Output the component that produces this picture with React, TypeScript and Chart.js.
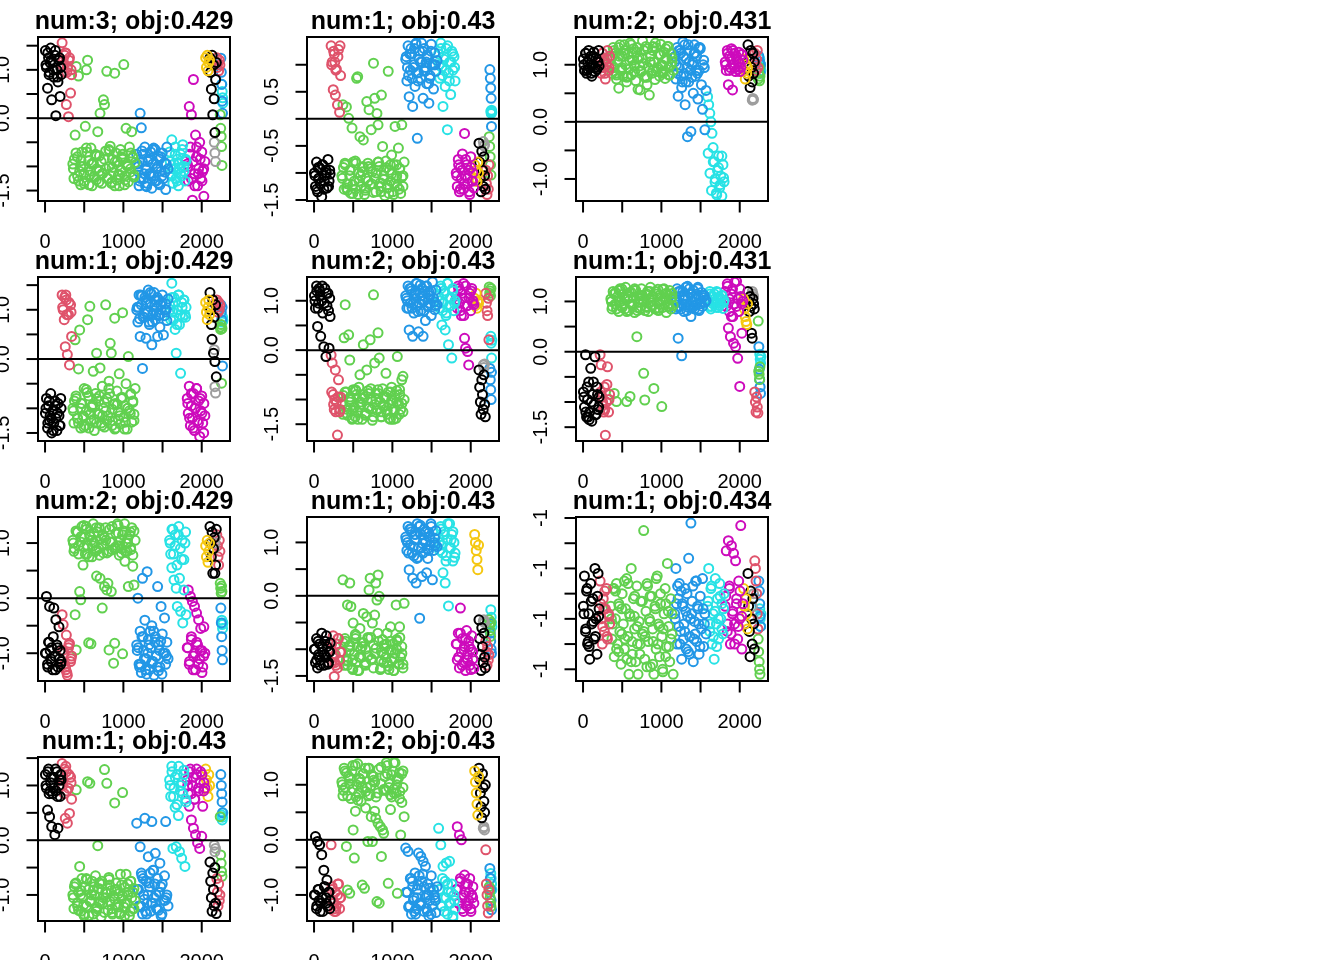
import React, { useEffect, useRef } from 'react';
import { Chart, registerables } from 'chart.js';

Chart.register(...registerables);

// R 4.x default palette
const BLACK = '#000000';
const RED = '#DF536B';
const GREEN = '#61D04F';
const BLUE = '#2297E6';
const CYAN = '#28E2E5';
const MAGENTA = '#CD0BBC';
const YELLOW = '#F5C710';
const GRAY = '#9E9E9E';

// observation index of each plotted point, per group (same in every panel)
const blackX = [5, 18, 32, 45, 58, 72, 85, 98, 112, 125, 138, 152, 165, 178, 192, 205];
const redX = [218, 231, 245, 258, 272, 285, 299, 312, 326, 339];
const greenX = [
  355, 369, 384, 398, 413, 427, 442, 456, 470, 485, 499, 514, 528, 543, 557, 572,
  586, 600, 615, 629, 644, 658, 673, 687, 702, 716, 730, 745, 759, 774, 788, 803,
  817, 832, 846, 860, 875, 889, 904, 918, 933, 947, 962, 976, 990, 1005, 1019, 1034,
  1048, 1063, 1077, 1092, 1106, 1120, 1135, 1150,
];
const blueX = [
  1170, 1185, 1200, 1214, 1229, 1244, 1259, 1274, 1289, 1303, 1318, 1333, 1348, 1363,
  1377, 1392, 1407, 1422, 1437, 1451, 1466, 1481, 1496, 1511, 1525, 1540, 1555, 1570,
];
const cyanX = [1590, 1604, 1618, 1632, 1646, 1660, 1674, 1688, 1702, 1716, 1730, 1744, 1758, 1772, 1786, 1800];
const magentaX = [1815, 1828, 1841, 1855, 1868, 1881, 1894, 1908, 1921, 1934, 1947, 1960, 1974, 1987, 2000, 2013, 2027, 2040];
const yellowX = [2050, 2060, 2070, 2080, 2090, 2100];
const black2X = [2105, 2114, 2123, 2132, 2141, 2150, 2159, 2168, 2177, 2186];
const grayX = [2160, 2168, 2176];
const red2X = [2192, 2200, 2208, 2216, 2224, 2232];
const green2X = [2236, 2242, 2248, 2253, 2258];
const blue2X = [2244, 2250, 2255, 2260, 2265];
const cyan2X = [2256, 2261, 2266, 2270];

// further observations inside the dense clouds
const blackMoreX = [12, 35, 52, 78, 105, 132, 158, 185, 200, 65];
const redMoreX = [225, 250, 278, 305, 332, 265];
const greenMoreX = [
  362, 395, 428, 461, 494, 527, 560, 593, 626, 659, 692, 725,
  758, 791, 824, 857, 890, 923, 956, 989, 1022, 1055, 1088, 1121,
  375, 415, 455, 495, 535, 575, 615, 655, 695, 735,
  775, 815, 855, 895, 935, 975, 1015, 1055, 1095, 1135,
];
const blueMoreX = [
  1177, 1207, 1237, 1267, 1297, 1327, 1357, 1387, 1417, 1447, 1477, 1532,
  1192, 1222, 1252, 1282, 1312, 1342, 1372, 1402, 1432, 1462, 1492, 1548,
];
const cyanMoreX = [1597, 1620, 1640, 1662, 1684, 1706, 1728, 1750, 1772, 1794];
const magentaMoreX = [1822, 1845, 1868, 1890, 1912, 1935, 1958, 1980, 2003, 2025];

const groupX = [blackX, redX, greenX, blueX, cyanX, magentaX, yellowX, black2X, grayX, red2X, green2X, blue2X, cyan2X];
const groupColor = [BLACK, RED, GREEN, BLUE, CYAN, MAGENTA, YELLOW, BLACK, GRAY, RED, GREEN, BLUE, CYAN];

const titles = [
  'num:3; obj:0.429', 'num:1; obj:0.43', 'num:2; obj:0.431',
  'num:1; obj:0.429', 'num:2; obj:0.43', 'num:1; obj:0.431',
  'num:2; obj:0.429', 'num:1; obj:0.43', 'num:1; obj:0.434',
  'num:1; obj:0.43', 'num:2; obj:0.43',
];

const xRange = [-89.8, 2360.8];
const xTicks = [0, 500, 1000, 1500, 2000];
const xTickLabels = ['0', '', '1000', '', '2000'];

const yRanges = [
  [-1.716, 1.68], [-1.519, 1.513], [-1.386, 1.486],
  [-1.663, 1.665], [-1.84, 1.481], [-1.775, 1.486],
  [-1.504, 1.473], [-1.595, 1.476], [-1.003465, -0.99696],
  [-1.476, 1.52], [-1.473, 1.504],
];
const yTicks = [
  [-1.5, -1, -0.5, 0, 0.5, 1, 1.5], [-1.5, -1, -0.5, 0, 0.5, 1], [-1, -0.5, 0, 0.5, 1],
  [-1.5, -1, -0.5, 0, 0.5, 1, 1.5], [-1.5, -1, -0.5, 0, 0.5, 1], [-1.5, -1, -0.5, 0, 0.5, 1],
  [-1, -0.5, 0, 0.5, 1], [-1.5, -1, -0.5, 0, 0.5, 1], [-1.003, -1.002, -1.001, -1, -0.999, -0.998, -0.997],
  [-1, -0.5, 0, 0.5, 1, 1.5], [-1, -0.5, 0, 0.5, 1],
];
const yTickLabels = [
  ['-1.5', '', '', '0.0', '', '1.0', ''], ['-1.5', '', '-0.5', '', '0.5', ''], ['-1.0', '', '0.0', '', '1.0'],
  ['-1.5', '', '', '0.0', '', '1.0', ''], ['-1.5', '', '', '0.0', '', '1.0'], ['-1.5', '', '', '0.0', '', '1.0'],
  ['-1.0', '', '0.0', '', '1.0'], ['-1.5', '', '', '0.0', '', '1.0'], ['-1', '', '-1', '', '-1', '', '-1'],
  ['-1.0', '', '0.0', '', '1.0', ''], ['-1.0', '', '0.0', '', '1.0'],
];

// y values per panel, groups in the order of groupX
const p1 = [
  [1.4, 1.05, 0.62, 1.25, 0.95, 1.45, 0.38, 1.15, 0.85, 1.3, 0.05, 1.0, 0.75, 1.2, 0.45, 0.9],
  [1.56, 1.2, 0.95, 1.35, 0.28, 1.05, 0.03, 1.25, 0.52, 0.9],
  [
    -0.95, -1.25, -0.35, 1.07, -0.8, 0.87, -1.1, -1.38,
    -0.7, -1.0, -1.3, -0.17, 1.0, 1.2, -0.88, -1.18,
    -0.62, -1.4, -0.95, -1.22, -0.75, -1.05, -0.28, -1.32,
    0.1, -0.9, -1.15, 0.38, 0.28, -0.68, 0.97, -1.25,
    -1.0, -0.58, -1.35, -0.85, -1.12, 0.93, -0.72, -1.28,
    -0.98, -1.4, -0.65, -1.08, -0.85, 1.11, -1.2, -0.21,
    -0.95, -1.32, -0.6, -1.05, -0.28, -0.8, -1.18, -0.92,
  ],
  [
    -0.75, -1.1, -1.4, 0.1, -0.2, -0.9, -1.25, -0.6, -1.05, -1.35, -0.85, -1.15, -0.7, -1.45,
    -0.95, -1.2, -0.65, -1.3, -1.0, -0.8, -1.38, -1.1, -0.72, -1.25, -0.92, -1.48, -0.6, -1.05,
  ],
  [-0.7, -1.15, -0.45, -1.35, -0.95, -0.6, -1.25, -0.85, -1.4, -1.05, -0.75, -1.2, -0.55, -1.0, -1.3, -0.88],
  [-0.95, -1.3, 0.24, -0.6, 0.07, -1.7, 0.8, -1.15, -0.35, -0.8, -1.4, -1.05, -0.5, -1.25, -0.7, -1.1, -1.62, -0.9],
  [1.25, 1.05, 1.3, 0.98, 1.15, 1.2],
  [1.25, 0.95, 0.6, 1.3, 0.07, 1.1, 0.4, -0.3, 0.8, 1.15],
  [-0.5, -0.72, -0.9],
  [1.25, 1.05, 1.15, 0.98, 1.2, 1.1],
  [0.07, -0.21, -0.38, -0.59, -0.98],
  [1.24, 0.95, 0.7, 0.35, 0.1],
  [0.7, 0.55, 0.42, 0.31],
];

const p2 = [
  [-1.0, -1.25, -0.8, -1.35, -1.1, -0.9, -1.2, -1.44, -0.85, -1.3, -1.05, -0.95, -1.28, -0.75, -1.15, -1.02],
  [1.35, 1.05, 0.54, 1.2, 0.44, 0.92, 0.26, 1.28, 0.12, 0.8],
  [
    -1.05, 0.26, -1.3, -0.85, 0.22, -1.2, 0.01, -0.95,
    -1.38, -0.17, -0.8, -1.15, -1.3, 0.75, 0.78, -1.0,
    -0.33, -1.25, -0.9, -0.39, -1.4, -1.1, 0.32, -0.82,
    0.17, -1.22, -0.2, -0.98, 1.03, 0.38, -1.35, 0.1,
    -0.11, -0.88, -1.18, 0.44, -0.51, -1.05, -1.42, -0.78,
    -1.28, 0.88, -0.95, -1.15, -0.67, -1.35, -0.85, -0.14,
    -1.1, -1.25, -0.54, -0.92, -1.38, -0.11, -1.05, -0.8,
  ],
  [
    1.1, 0.7, 1.35, 0.41, 0.9, 1.2, 0.23, 1.0, 0.6, 1.4, -0.36, 0.85, 1.25, 0.75,
    1.05, 0.38, 1.3, 0.95, 0.65, 1.15, 0.29, 0.8, 1.38, 1.0, 0.55, 1.22, 0.88, 1.08,
  ],
  [1.2, 0.75, 1.4, 0.95, 0.23, 1.1, 0.6, 1.3, -0.2, 0.85, 1.05, 0.45, 1.25, 0.9, 1.15, 0.7],
  [-1.0, -1.25, -0.75, -1.35, -0.9, -1.1, -0.65, -1.3, -0.27, -1.05, -0.85, -1.2, -0.95, -1.4, -0.7, -1.15, -1.0, -1.28],
  [-0.85, -1.1, -0.95, -1.16, -0.8, -1.0],
  [-0.45, -0.8, -1.1, -1.35, -0.6, -0.95, -1.25, -0.7, -1.05, -1.3],
  [-0.42, -0.5, -0.48],
  [-0.95, -1.2, -1.4, -1.05, -1.3, -0.85],
  [-0.33, -0.51, -0.7, -0.85, -1.04],
  [0.91, 0.75, 0.57, 0.38, -0.14],
  [0.14, 0.1, 0.16, 0.12],
];

const p3 = [
  [1.1, 0.9, 1.2, 0.85, 1.05, 1.25, 0.95, 1.15, 0.8, 1.0, 1.22, 0.88, 1.12, 0.92, 1.05, 0.98],
  [1.05, 0.85, 1.2, 0.95, 1.1, 0.75, 1.0, 1.25, 0.9, 1.15],
  [
    1.1, 0.85, 1.3, 0.95, 1.2, 0.75, 1.05, 0.59,
    1.35, 0.9, 1.15, 0.8, 1.25, 1.0, 0.7, 1.18,
    0.92, 1.38, 0.82, 1.08, 1.28, 0.98, 0.72, 1.22,
    0.57, 1.12, 0.56, 0.88, 1.42, 1.02, 0.78, 1.32,
    0.65, 0.95, 0.47, 1.15, 0.85, 1.25, 1.05, 0.74,
    1.3, 0.92, 1.18, 0.8, 1.36, 1.0, 0.88, 1.22,
    0.76, 1.1, 1.32, 0.95, 0.82, 1.2, 1.05, 0.9,
  ],
  [
    1.05, 0.75, 1.3, 0.45, 0.95, 1.2, 0.6, 1.4, 0.85, 0.3, 1.1, -0.26, 0.7, 1.25,
    -0.17, 1.0, 0.5, 1.35, 0.8, 1.15, 0.4, 0.9, 1.28, 0.65, 0.22, 1.08, -0.14, 0.55,
  ],
  [0.44, 0.3, 0.15, 0.0, -0.2, -0.45, -0.7, -1.0, -1.25, -0.85, -0.6, -1.15, -0.95, -1.3, -0.75, -1.05],
  [1.05, 0.9, 1.25, 0.65, 1.15, 0.95, 1.28, 0.56, 1.0, 1.2, 0.88, 1.1, 0.92, 1.22, 1.02, 0.95, 1.18, 1.08],
  [1.1, 0.9, 0.75, 1.0, 0.85, 0.95],
  [1.35, 0.8, 1.1, 0.6, 1.25, 0.95, 0.7, 1.2, 0.85, 1.05],
  [0.38, 0.41, 0.39],
  [1.2, 1.0, 0.9, 1.1, 1.25, 0.95],
  [0.75, 0.85, 0.95, 0.72, 0.8],
  [1.15, 0.95, 1.05, 0.85, 1.0],
  [1.1, 0.95, 1.0, 0.9],
];

const p4 = [
  [-1.1, -0.8, -1.4, -0.95, -1.25, -0.7, -1.5, -1.05, -1.3, -0.85, -1.2, -1.45, -0.9, -1.15, -1.35, -1.0],
  [1.3, 1.0, 0.8, 0.25, 1.2, 0.09, 0.9, -0.12, 1.1, 0.46],
  [
    -1.0, -1.3, 0.39, -0.8, -1.2, -0.2, 0.59, -1.4,
    -0.9, -1.15, -0.6, -1.35, -1.05, 0.8, -0.75, 1.07,
    -1.25, -0.95, -0.25, -1.45, -0.7, 0.12, -1.1, -0.85,
    -0.18, -1.3, -0.55, -1.0, -1.38, 1.1, -0.8, -1.15,
    -0.45, 0.32, 0.12, -1.25, -0.92, 0.83, -1.4, -0.65,
    -1.08, -0.3, -1.32, -0.78, 0.94, -1.18, -0.95, -0.5,
    -1.42, 0.05, -1.05, -0.72, -1.28, -0.88, -1.12, -0.6,
  ],
  [
    1.0, 0.75, 1.3, 0.46, 1.1, -0.19, 0.85, 1.25, 0.42, 0.95, 1.4, 0.7, 1.15, 0.29,
    0.9, 1.35, 0.8, 1.05, 0.46, 1.2, 0.65, 1.0, 1.3, 0.49, 0.88, 1.12, 0.78, 1.22,
  ],
  [1.1, 0.8, 1.54, 0.95, 1.25, 0.6, 0.12, 1.0, 1.3, 0.7, -0.29, 1.15, 0.85, 1.2, 0.9, 1.05],
  [-0.8, -1.1, -0.55, -1.35, -0.95, -1.2, -0.7, -1.45, -1.0, -0.6, -1.25, -0.85, -1.57, -1.05, -0.75, -1.3, -0.9, -1.15],
  [1.15, 0.95, 0.8, 1.05, 1.2, 0.9],
  [1.35, 1.0, 0.7, 0.4, 1.2, 0.12, 0.85, -0.05, 1.1, -0.36],
  [0.19, -0.56, -0.69],
  [1.2, 1.05, 0.95, 1.15, 1.0, 1.1],
  [0.65, 0.6, 0.7, -0.49, 0.62],
  [1.1, 0.95, 0.8, 1.05, -0.14],
  [0.8, 0.75, 0.85, 0.78],
];

const p5 = [
  [1.1, 0.85, 1.3, 0.48, 0.95, 1.2, 0.28, 1.0, 0.75, 0.07, 1.25, -0.13, 0.9, 1.15, 0.04, 0.68],
  [-0.1, -0.26, -0.9, -1.2, -0.4, -1.05, -1.72, -0.6, -1.25, -0.95],
  [
    -1.05, -1.3, 0.25, 0.92, -0.85, -1.2, 0.31, -0.2,
    -1.0, -1.4, -0.8, -1.15, -1.35, -0.9, -1.25, -0.75,
    -0.5, -1.1, -1.4, 0.11, -0.95, -1.28, -0.4, -0.82,
    -1.18, 0.21, -1.0, -1.42, 1.12, -0.26, -0.88, -1.22,
    0.35, -0.16, -1.05, -1.35, -0.78, -1.15, -0.95, -0.47,
    -1.3, -0.85, -1.1, -1.4, -0.75, -1.02, -1.25, -0.9,
    -1.38, -0.13, -1.08, -0.8, -1.2, -0.6, -0.53, -1.0,
  ],
  [
    1.1, 0.85, 1.3, 0.41, 0.95, 1.2, 0.28, 0.75, 1.05, 1.35, 0.9, 0.37, 1.15, 0.8,
    1.25, 0.28, 1.0, 0.6, 1.3, 0.88, 1.18, 0.95, 0.7, 1.38, 1.05, 0.82, 1.22, 0.92,
  ],
  [1.1, 0.85, 1.3, 0.51, 0.95, 1.2, 0.41, 0.75, 1.35, 0.11, 1.05, 0.9, -0.16, 1.25, 0.8, 1.0],
  [1.1, 0.85, 1.3, 0.95, 1.2, 0.7, 1.05, 1.35, 0.24, 0.04, 0.9, -0.03, -0.3, 1.15, 0.8, 1.25, 1.0, 0.92],
  [1.05, 0.9, 1.15, 0.85, 1.0, 0.95],
  [-0.4, -0.75, -1.05, -1.3, -0.6, -0.9, -1.2, -0.5, -1.1, -1.35],
  [-0.3, -0.35, -0.28],
  [1.15, 0.95, 0.8, 0.7, 1.05, 0.21],
  [1.28, 1.15, 1.2, 1.1, 1.25],
  [-0.37, -0.6, -0.8, -1.0, -0.45],
  [0.28, 0.14, -0.16, 0.2],
];

const p6 = [
  [-0.8, -1.1, -0.06, -1.3, -0.95, -0.6, -1.2, -0.33, -1.38, -0.85, -1.05, -0.1, -1.25, -0.7, -1.15, -0.9],
  [-0.06, -0.26, -0.9, -1.15, -0.7, -1.66, -1.0, -0.3, -1.2, -0.85],
  [
    1.05, 0.85, 1.2, -0.83, 0.95, -0.99, 1.1, 0.8,
    1.25, 1.0, 0.88, 1.15, 0.95, 1.28, -0.99, 1.05,
    0.82, -0.89, 1.18, 0.92, 1.08, 0.78, 1.22, 0.3,
    0.98, 1.12, 0.85, 1.25, 1.02, -0.43, -0.96, 0.9,
    1.15, 0.8, 1.05, 1.28, 0.92, 1.1, -0.73, 0.85,
    1.2, 0.98, 0.82, 1.12, 1.0, -1.09, 0.88, 1.25,
    1.05, 0.78, 1.15, 0.95, 1.22, 0.85, 1.08, 0.92,
  ],
  [
    1.0, 0.85, 1.25, 0.27, 1.1, 0.9, -0.08, 1.2, 0.8, 1.05, 0.95, 1.3, 0.88, 1.15,
    0.7, 1.0, 1.22, 0.85, 1.1, 0.95, 1.28, 0.82, 1.05, 1.18, 0.9, 1.12, 0.98, 1.02,
  ],
  [1.05, 0.9, 1.2, 0.85, 1.1, 0.95, 1.15, 1.0, 0.88, 1.18, 0.92, 1.08, 0.96, 1.12, 0.86, 1.02],
  [1.2, 0.9, 1.35, 0.47, 1.05, 0.3, 0.7, 1.25, 0.17, 0.95, 0.1, 1.4, -0.13, 0.8, -0.69, 1.1, 0.37, 1.0],
  [1.05, 0.85, 0.7, 0.6, 0.54, 0.95],
  [1.2, 1.0, 0.8, 1.1, 0.9, 0.37, 0.27, 1.05, 0.95, 0.85],
  [1.2, 1.15, 1.1],
  [-0.8, -1.0, -1.2, -0.9, -1.1, -1.22],
  [0.61, -0.39, -0.45, -0.55, -0.3],
  [0.1, -0.35, -0.55, -0.7, -0.83],
  [-0.05, -0.15, -0.23, -0.1],
];

const p7 = [
  [-1.0, 0.03, -1.2, -0.8, -0.15, -1.1, -0.9, -1.3, -0.18, -1.05, -0.39, -0.85, -1.25, -0.52, -0.95, -1.15],
  [-0.3, -0.48, -1.0, -1.25, -0.67, -1.4, -0.9, -0.82, -1.15, -1.05],
  [
    1.05, 0.85, -0.3, -0.94, 1.2, 0.95, 0.12, -0.03,
    1.3, 0.6, 1.1, 0.8, 1.25, 0.95, -0.81, 1.15,
    -0.83, 0.75, 1.35, 1.0, 0.85, 0.4, 1.2, 0.9,
    0.36, 1.08, -0.18, 0.82, 0.21, 1.28, 0.15, 0.27,
    -0.94, 1.02, 0.12, 0.88, -1.18, -0.82, 1.18, 0.95,
    1.32, 0.78, 1.05, 0.9, -1.01, 1.22, 0.67, 1.0,
    0.85, 0.21, 1.15, 0.92, 1.28, 0.58, 0.24, 1.05,
  ],
  [
    -0.85, 0.0, -1.2, -0.6, -1.35, 0.36, -0.95, -0.4, -1.1, 0.48, -0.75, -1.3, -0.9, -0.5,
    -1.15, -1.4, -0.7, -1.05, 0.21, -0.85, -1.25, -0.15, -0.65, -1.0, -0.36, -1.2, -0.8, -1.1,
  ],
  [1.05, 0.8, 0.55, 1.25, 0.33, 0.95, 0.18, -0.15, 1.15, 0.36, -0.24, 0.7, -0.45, 0.15, 1.0, -0.3],
  [-0.9, 0.15, -1.2, 0.03, -0.75, -0.06, -1.05, -0.15, -1.3, -0.27, -0.85, -0.39, -1.1, -0.55, -0.95, -1.25, -0.52, -1.0],
  [0.95, 0.75, 1.05, 0.65, 0.85, 1.0],
  [1.3, 1.0, 0.75, 1.2, 0.45, 0.9, 1.1, 0.45, 0.6, 1.25],
  [0.9, 1.0, 1.1],
  [1.15, 0.95, 0.75, 0.6, 1.05, 0.85],
  [0.27, 0.18, 0.09, 0.22, 0.12],
  [-0.18, -0.45, -0.7, -0.95, -1.12],
  [-0.4, -0.48, -0.55, -0.45],
];

const p8 = [
  [-1.0, -1.25, -0.8, -1.35, -1.1, -0.9, -1.2, -0.7, -1.05, -1.3, -0.85, -1.15, -0.95, -1.28, -1.05, -0.88],
  [-1.0, -1.25, -0.75, -1.51, -1.1, -0.9, -1.35, -0.8, -1.2, -1.05],
  [
    -1.05, 0.3, -1.3, -0.85, -1.2, -0.17, -0.95, 0.24,
    -0.2, -1.35, -0.51, -1.1, -0.8, -1.25, -0.95, -1.4,
    -0.61, -1.15, -0.88, -0.33, -1.28, -1.0, -0.39, -0.78,
    0.11, 0.33, -1.2, -0.51, -0.92, -0.36, 0.24, -0.08,
    0.39, -0.01, -1.38, -1.05, -0.82, -1.25, -0.98, -1.15,
    -0.7, -1.32, -1.02, -0.58, -1.22, -0.9, -1.4, -1.08,
    -0.17, -0.85, -1.28, -0.58, -1.15, -0.95, -1.35, -0.14,
  ],
  [
    1.1, 0.85, 1.3, 0.49, 0.95, 1.2, 0.33, 0.75, 1.05, 0.24, 1.35, 0.9, -0.42, 1.15,
    0.36, 0.8, 1.25, 1.0, 0.43, 0.7, 1.18, 0.95, 1.3, 0.3, 0.85, 1.08, 1.22, 0.92,
  ],
  [1.1, 0.85, 1.3, 0.95, 0.43, 1.2, 0.24, 0.75, 1.05, -0.19, 1.35, 0.9, 1.15, 0.65, 1.0, 0.8],
  [-0.9, -1.2, -0.7, -1.35, -0.23, -1.05, -0.8, -1.25, -0.95, -1.4, -0.65, -1.1, -0.85, -1.3, -1.0, -0.75, -1.18, -1.36],
  [1.15, 1.0, 0.85, 0.68, 0.49, 0.95],
  [-0.45, -0.8, -1.1, -1.4, -0.6, -0.95, -1.25, -0.7, -1.15, -1.35],
  [-0.48, -0.45, -0.5],
  [-0.85, -1.05, -1.3, -0.95, -1.2, -1.1],
  [-0.45, -0.55, -0.65, -0.76, -0.5],
  [-0.52, -0.7, -0.85, -1.0, -1.08],
  [-0.26, -0.4, -0.5, -0.58],
];

const p9 = [
  [-1.0005, -0.9993, -1.0015, -0.9999, -1.002, -1.0008, -1.0026, -0.9996, -1.0012, -1.0002, -1.0018, -0.999, -1.001, -1.0024, -0.9992, -1.0006],
  [-0.9995, -1.001, -1.002, -1.0002, -1.0015, -1.0006, -0.9998, -1.0018, -1.0008, -1.0012],
  [
    -1.0005, -1.0018, -0.9998, -1.0025, -1.001, -0.9996, -1.002, -1.0004,
    -1.0015, -1.0028, -1.0, -1.0012, -1.0022, -1.0006, -0.9994, -1.0017,
    -1.0032, -1.0009, -0.999, -1.0024, -1.0002, -1.0014, -1.0027, -0.9997,
    -1.0032, -1.0011, -1.002, -1.0003, -1.0016, -0.9975, -1.0026, -1.0007,
    -0.9996, -1.0019, -1.001, -1.0029, -1.0001, -1.0014, -1.0032, -1.0005,
    -1.0022, -0.9993, -1.0012, -1.0025, -1.0004, -1.0017, -1.0031, -1.0008,
    -0.9998, -1.0021, -0.9988, -1.0013, -1.0027, -1.0002, -1.0016, -1.0032,
  ],
  [
    -1.0008, -0.999, -1.002, -1.0002, -0.9996, -1.0015, -1.0026, -1.0005, -1.0012, -0.9998, -1.0022, -1.0009, -0.9986, -1.0017,
    -0.9972, -1.0003, -1.0027, -1.0011, -0.9995, -1.0019, -1.0006, -1.0024, -1.0001, -1.0014, -0.9994, -1.0021, -1.0008, -1.0016,
  ],
  [-1.0005, -0.999, -1.0015, -0.9998, -1.002, -1.0008, -1.0026, -0.9994, -1.0012, -1.0002, -1.0018, -0.9996, -1.001, -1.0004, -1.0016, -1.0],
  [-1.0005, -0.9983, -1.0015, -0.9979, -0.9998, -1.002, -0.9981, -1.0008, -0.9984, -1.0012, -0.9987, -1.0002, -1.0018, -0.9995, -1.001, -0.9973, -1.0022, -1.0004],
  [-0.9998, -1.0005, -1.0012, -1.0002, -1.0008, -1.0014],
  [-0.9992, -1.0005, -1.0015, -1.0025, -0.9999, -1.001, -1.002, -1.0002, -1.0012, -1.0022],
  [-1.0005, -1.001, -1.0],
  [-0.9987, -0.999, -0.9995, -1.0, -1.0008, -1.0014],
  [-1.0018, -1.0023, -1.0027, -1.003, -1.0032],
  [-0.9995, -0.9999, -1.0004, -1.0009, -1.0013],
  [-1.0006, -1.001, -1.0013, -1.0008],
];

const p10 = [
  [1.2, 0.95, 0.55, 1.3, 0.43, 1.05, 0.25, 0.85, 1.15, 0.1, 0.9, 1.25, 0.22, 1.0, 0.8, 1.1],
  [1.4, 1.1, 0.85, 0.4, 1.25, 0.31, 0.95, 0.49, 1.15, 0.75],
  [
    -1.0, -1.25, -0.8, 0.92, -1.15, -0.95, -0.48, -1.3,
    -0.7, -1.05, -1.38, -0.85, -1.2, 1.07, -0.9, 1.04,
    -1.1, -0.75, -1.35, -1.0, -0.65, -1.25, -0.1, -0.88,
    -1.15, -1.4, -0.8, -1.05, 1.29, -0.95, 1.04, -1.28,
    -0.72, -1.12, -0.92, -1.35, -1.02, 0.68, -0.78, -1.18,
    -0.98, -1.32, -0.62, -1.08, 0.87, -1.22, -0.86, -0.62,
    -1.15, -0.95, -1.38, -0.75, -1.05, -1.25, -0.88, -1.1,
  ],
  [
    0.31, -0.9, -1.2, -0.12, -0.6, -1.35, -1.0, 0.4, -0.75, -1.15, -0.3, -0.85, -1.3, 0.34,
    -0.55, -1.05, -0.24, -1.25, -0.7, -0.95, -0.42, -1.38, -0.8, -1.1, -0.65, 0.34, -1.0, -1.2,
  ],
  [1.1, 0.8, 1.35, -0.15, 0.95, 0.6, -0.12, 1.2, 0.45, -0.21, 1.0, -0.33, 0.85, 1.28, -0.48, 0.7],
  [1.1, 0.85, 0.62, 1.3, 0.37, 1.0, 0.22, 0.75, 0.1, 1.2, -0.05, 0.9, -0.15, 1.25, 0.07, 0.62, 1.05, 0.95],
  [1.3, 1.1, 0.95, 0.8, 1.2, 1.0],
  [-0.4, -0.75, -1.05, -1.3, -0.6, -0.9, -1.2, -0.5, -1.15, -1.34],
  [-0.09, -0.21, -0.15],
  [-0.7, -0.95, -1.2, -0.8, -1.1, -1.0],
  [0.43, -0.27, -0.42, -0.57, -0.66],
  [1.2, 1.0, 0.85, 0.7, 0.5],
  [0.46, 0.37, 0.42, 0.5],
];

const p11 = [
  [-1.0, 0.06, -1.25, -0.03, -0.9, -0.09, -1.15, -0.27, -1.3, -0.55, -0.85, -1.05, -0.73, -1.2, -0.95, -1.1],
  [-0.09, -0.85, -1.1, -1.3, -0.95, -1.2, -1.0, -0.8, -1.25, -1.05],
  [
    1.05, 0.8, 1.3, 0.95, -0.12, -0.91, 1.15, -0.97,
    0.75, 1.25, 0.18, -0.33, 0.52, 1.0, 1.38, 0.85,
    1.1, 0.7, -0.82, 1.2, -0.88, 0.58, 0.95, -0.03,
    1.3, 0.82, 0.42, -0.03, 1.08, 0.52, 0.39, -1.12,
    0.3, -1.15, 0.24, -0.3, 0.18, 0.12, 1.15, 0.9,
    1.35, -0.79, 1.02, 0.55, 0.78, 1.25, 0.92, 1.4,
    0.85, -0.97, 1.12, 0.75, 0.09, 1.2, 0.95, 0.42,
  ],
  [
    -0.15, -0.95, -0.21, -1.2, -0.7, -1.35, -0.85, -1.05, -0.6, -1.25, -0.9, -0.24, -1.15, -0.3,
    -0.75, -0.39, -1.3, -0.48, -1.0, -0.8, -1.38, -1.1, -0.65, -1.2, -0.9, -1.05, -1.32, -0.85,
  ],
  [0.21, -0.9, -0.09, -1.2, -0.48, -1.05, -0.75, -0.42, -1.35, -0.95, -0.39, -1.15, -0.8, -1.42, -1.0, -1.25],
  [-0.9, 0.24, -1.15, 0.09, -0.75, 0.0, -1.05, -1.3, -0.64, -0.95, -1.2, -0.8, -1.1, -0.7, -1.25, -1.0, -0.85, -1.15],
  [1.25, 1.05, 0.85, 0.65, 0.45, 1.15],
  [1.3, 1.1, 0.85, 0.6, 0.4, 1.2, 0.95, 0.7, 0.5, 1.0],
  [0.21, 0.24, 0.18],
  [-0.18, -0.8, -1.0, -1.2, -1.33, -0.9],
  [-0.85, -0.95, -1.05, -1.15, -1.21],
  [-0.52, -0.7, -0.9, -1.1, -1.27],
  [-0.61, -0.7, -0.8, -0.91],
];

// y values of the extra observations, one list per panel
const blackMore = [
  [1.1, 1.35, 0.9, 1.2, 1.0, 1.4, 0.85, 1.25, 1.05, 1.15],
  [-1.05, -1.3, -0.9, -1.2, -0.85, -1.15, -1.0, -1.25, -0.95, -1.1],
  [1.0, 1.2, 0.9, 1.1, 0.85, 1.15, 0.95, 1.05, 1.25, 0.92],
  [-1.0, -1.3, -0.85, -1.2, -1.45, -0.95, -1.1, -1.35, -0.8, -1.15],
  [1.0, 1.2, 0.85, 1.1, 1.3, 0.95, 1.15, 0.8, 1.05, 1.25],
  [-0.9, -1.2, -0.7, -1.35, -1.0, -0.6, -1.25, -0.85, -1.1, -1.3],
  [-1.0, -1.25, -0.8, -1.15, -0.7, -1.3, -0.9, -1.1, -1.2, -0.95],
  [-1.0, -1.2, -0.85, -1.3, -0.95, -1.1, -0.75, -1.25, -1.05, -1.15],
  [-1.0008, -1.0014, -0.9998, -1.0021, -1.0003, -1.0011, -1.0017, -1.0001, -1.0009, -1.0019],
  [1.0, 1.25, 0.85, 1.15, 0.95, 1.3, 0.8, 1.1, 1.2, 0.9],
  [-1.0, -1.2, -0.9, -1.3, -1.05, -0.85, -1.15, -0.95, -1.25, -1.1],
];
const redMore = [
  [1.1, 1.3, 0.95, 1.2, 1.0, 1.35],
  [1.0, 1.25, 0.9, 1.15, 1.35, 1.05],
  [1.0, 1.2, 0.85, 1.1, 0.95, 1.05],
  [1.05, 1.25, 0.9, 1.15, 0.95, 1.3],
  [-0.85, -1.1, -1.25, -0.95, -1.2, -1.0],
  [-0.8, -1.0, -1.15, -0.65, -0.95, -1.2],
  [-0.95, -1.2, -1.35, -0.85, -1.1, -1.3],
  [-0.9, -1.15, -1.3, -0.8, -1.05, -1.25],
  [-1.0004, -1.0013, -0.9999, -1.0017, -1.0009, -1.0006],
  [1.0, 1.3, 0.9, 1.2, 1.05, 1.35],
  [-0.9, -1.15, -1.3, -0.8, -1.05, -1.25],
];
const greenMore = [
  [
    -1.05, -0.72, -1.3, -0.88, -1.15, -0.62, -1.38, -0.95, -1.2, -0.78, -1.1, -1.35, -0.85, -1.25, -0.68, -1.02, -1.4, -0.9, -1.18, -0.75, -1.28, -0.98, -1.12, -0.82,
    -0.85, -1.2, -1.0, -1.35, -0.7, -1.1, -0.92, -1.28, -0.78, -1.15, -1.05, -0.65, -1.32, -0.9, -1.18, -0.8, -1.38, -1.0, -0.72, -1.22,
  ],
  [
    -1.1, -0.82, -1.32, -0.95, -1.22, -0.78, -1.4, -1.05, -0.88, -1.28, -1.15, -0.92, -1.36, -1.0, -0.8, -1.25, -1.12, -0.9, -1.38, -1.02, -1.2, -0.85, -1.3, -1.08,
    -0.9, -1.28, -1.05, -1.38, -0.82, -1.15, -0.98, -1.32, -0.88, -1.2, -1.1, -0.8, -1.35, -0.95, -1.22, -0.85, -1.4, -1.05, -0.92, -1.25,
  ],
  [
    1.0, 1.25, 0.82, 1.15, 0.92, 1.35, 0.78, 1.08, 1.22, 0.88, 1.3, 0.98, 1.12, 0.8, 1.28, 1.05, 0.9, 1.38, 0.95, 1.18, 0.85, 1.1, 1.32, 1.0,
    1.15, 0.85, 1.3, 0.95, 1.2, 0.8, 1.35, 1.0, 1.1, 0.9, 1.25, 0.78, 1.05, 1.32, 0.88, 1.18, 0.98, 1.28, 0.82, 1.12,
  ],
  [
    -1.05, -0.75, -1.3, -0.9, -1.18, -0.62, -1.4, -0.98, -1.22, -0.8, -1.12, -1.35, -0.88, -1.25, -0.7, -1.02, -1.42, -0.92, -1.15, -0.78, -1.28, -1.0, -1.1, -0.85,
    -0.85, -1.2, -1.0, -1.38, -0.68, -1.12, -0.92, -1.3, -0.75, -1.15, -1.05, -0.6, -1.35, -0.9, -1.22, -0.8, -1.42, -1.0, -0.7, -1.25,
  ],
  [
    -1.1, -0.85, -1.32, -0.95, -1.22, -0.8, -1.4, -1.05, -0.9, -1.28, -1.15, -0.78, -1.35, -1.0, -0.88, -1.25, -1.12, -0.95, -1.38, -1.02, -1.2, -0.82, -1.3, -1.08,
    -0.92, -1.28, -1.05, -1.38, -0.82, -1.15, -0.98, -1.32, -0.88, -1.2, -1.1, -0.8, -1.35, -0.95, -1.22, -0.85, -1.4, -1.05, -0.9, -1.25,
  ],
  [
    1.0, 1.15, 0.85, 1.22, 0.92, 1.08, 0.8, 1.18, 0.95, 1.25, 0.88, 1.05, 1.12, 0.82, 1.2, 0.98, 1.1, 0.86, 1.24, 0.94, 1.02, 1.16, 0.9, 1.06,
    0.9, 1.18, 1.02, 1.25, 0.85, 1.1, 0.95, 1.22, 0.82, 1.12, 1.0, 0.88, 1.2, 0.92, 1.15, 0.86, 1.24, 1.04, 0.9, 1.16,
  ],
  [
    1.0, 1.22, 0.8, 1.12, 0.92, 1.3, 0.75, 1.05, 1.18, 0.88, 1.28, 0.98, 1.1, 0.82, 1.25, 1.02, 0.9, 1.35, 0.95, 1.15, 0.85, 1.08, 1.2, 0.78,
    0.9, 1.2, 1.02, 1.32, 0.8, 1.12, 0.95, 1.28, 0.78, 1.15, 1.05, 0.85, 1.3, 0.92, 1.18, 0.82, 1.35, 1.0, 0.88, 1.22,
  ],
  [
    -1.05, -0.8, -1.3, -0.92, -1.2, -0.72, -1.4, -1.0, -0.88, -1.25, -1.12, -0.78, -1.35, -0.98, -0.85, -1.22, -1.1, -0.9, -1.38, -1.02, -1.18, -0.82, -1.28, -1.08,
    -0.88, -1.22, -1.02, -1.38, -0.75, -1.15, -0.95, -1.3, -0.8, -1.18, -1.08, -0.7, -1.35, -0.92, -1.25, -0.85, -1.4, -1.0, -0.78, -1.28,
  ],
  [
    -1.001, -0.9998, -1.0022, -1.0005, -1.0016, -0.9995, -1.0026, -1.0008, -1.0019, -1.0001, -1.0013, -1.0024, -1.0003, -1.0017, -0.9997, -1.0011, -1.0028, -1.0006, -1.002, -1.0, -1.0014, -1.0025, -1.0007, -1.0018,
    -1.0012, -0.9999, -1.0023, -1.0006, -1.0018, -0.9996, -1.0027, -1.0009, -1.002, -1.0003, -1.0015, -1.0029, -1.0001, -1.0019, -0.9994, -1.0013, -1.003, -1.0004, -1.0021, -1.0008,
  ],
  [
    -1.05, -0.78, -1.28, -0.92, -1.18, -0.7, -1.38, -1.0, -0.85, -1.22, -1.12, -0.75, -1.32, -0.98, -0.82, -1.25, -1.08, -0.9, -1.35, -1.02, -1.15, -0.8, -1.3, -0.95,
    -0.85, -1.2, -1.0, -1.35, -0.72, -1.12, -0.92, -1.3, -0.78, -1.15, -1.05, -0.68, -1.32, -0.9, -1.22, -0.82, -1.38, -1.0, -0.75, -1.25,
  ],
  [
    1.0, 1.25, 0.8, 1.12, 0.92, 1.35, 0.72, 1.05, 1.2, 0.88, 1.3, 0.98, 1.15, 0.78, 1.28, 1.02, 0.9, 1.4, 0.95, 1.18, 0.85, 1.1, 1.22, 0.68,
    0.9, 1.22, 1.02, 1.35, 0.78, 1.12, 0.95, 1.3, 0.8, 1.18, 1.05, 0.85, 1.32, 0.92, 1.2, 0.82, 1.4, 1.0, 0.88, 1.25,
  ],
];
const blueMore = [
  [-0.95, -1.3, -0.68, -1.15, -1.42, -0.85, -1.2, -0.62, -1.05, -1.35, -0.8, -1.12, -1.0, -1.25, -0.75, -1.4, -0.9, -1.15, -0.65, -1.3, -1.05, -0.85, -1.2, -0.95],
  [1.15, 0.8, 1.3, 0.95, 1.38, 0.7, 1.05, 1.25, 0.88, 1.18, 0.75, 1.0, 0.95, 1.2, 0.75, 1.3, 0.85, 1.1, 1.4, 0.9, 1.05, 0.65, 1.25, 1.0],
  [1.15, 0.85, 1.25, 0.7, 1.35, 0.95, 1.05, 0.78, 1.2, 0.9, 1.3, 1.0, 1.0, 1.25, 0.8, 1.15, 0.7, 1.35, 0.9, 1.05, 1.2, 0.85, 1.3, 0.95],
  [1.05, 0.82, 1.28, 0.92, 1.15, 0.75, 1.32, 0.98, 1.2, 0.88, 1.1, 1.0, 1.05, 1.3, 0.85, 1.2, 0.95, 1.35, 0.75, 1.1, 1.25, 0.9, 1.15, 1.0],
  [1.05, 0.85, 1.25, 0.95, 1.15, 0.78, 1.32, 1.0, 1.2, 0.9, 1.1, 0.98, 1.0, 1.25, 0.85, 1.15, 1.35, 0.95, 1.1, 0.8, 1.3, 1.05, 1.2, 0.9],
  [1.05, 0.88, 1.2, 0.95, 1.12, 0.82, 1.25, 1.0, 0.92, 1.15, 0.85, 1.08, 1.0, 1.2, 0.85, 1.1, 1.28, 0.92, 1.15, 0.88, 1.05, 1.25, 0.95, 1.12],
  [-0.95, -1.25, -0.7, -1.1, -1.38, -0.85, -1.18, -0.6, -1.05, -1.32, -0.78, -1.0, -0.9, -1.2, -0.7, -1.3, -1.0, -0.6, -1.15, -0.8, -1.25, -0.95, -1.38, -1.05],
  [1.05, 0.8, 1.25, 0.92, 1.15, 0.72, 1.32, 0.98, 1.2, 0.88, 1.1, 1.0, 1.0, 1.25, 0.8, 1.15, 0.7, 1.3, 0.9, 1.05, 1.2, 0.85, 1.35, 0.95],
  [
    -1.001, -0.9997, -1.002, -1.0004, -1.0015, -1.0, -1.0024, -1.0008, -1.0018, -0.9995, -1.0012, -1.0006,
    -1.0004, -1.0013, -0.9999, -1.0018, -1.0007, -1.0023, -1.001, -0.9997, -1.0016, -1.0005, -1.0021, -1.0012,
  ],
  [-0.9, -1.2, -0.65, -1.08, -1.35, -0.78, -1.15, -0.55, -1.0, -1.28, -0.85, -1.1, -0.9, -1.2, -0.7, -1.3, -1.0, -0.6, -1.15, -0.8, -1.25, -0.95, -1.35, -1.05],
  [-0.95, -1.22, -0.7, -1.1, -1.35, -0.82, -1.18, -0.62, -1.05, -1.3, -0.88, -1.0, -0.95, -1.2, -0.75, -1.3, -1.05, -0.65, -1.15, -0.85, -1.25, -1.0, -1.35, -1.1],
];
const cyanMore = [
  [-0.9, -1.2, -1.05, -0.75, -1.3, -0.95, -1.15, -0.65, -1.1, -0.85],
  [1.0, 1.3, 0.8, 1.15, 0.9, 1.35, 0.7, 1.05, 1.2, 0.95],
  [-0.55, -0.9, -1.2, -0.7, -1.05, -1.28, -0.8, -1.1, -0.6, -0.98],
  [1.0, 1.25, 0.8, 1.15, 0.7, 1.3, 0.9, 1.05, 1.2, 0.85],
  [1.0, 1.25, 0.8, 1.15, 0.7, 1.35, 0.9, 1.05, 1.2, 0.95],
  [1.0, 1.15, 0.9, 1.1, 0.95, 1.2, 0.88, 1.05, 1.12, 0.98],
  [1.0, 1.25, 0.8, 1.15, 0.6, 1.3, 0.9, 1.05, 0.7, 1.2],
  [1.0, 1.25, 0.8, 1.15, 0.65, 1.35, 0.9, 1.05, 1.2, 0.72],
  [-1.0003, -1.0012, -0.9997, -1.0017, -1.0007, -1.0021, -1.001, -1.0001, -1.0014, -1.0006],
  [1.0, 1.25, 0.8, 1.15, 0.65, 1.35, 0.9, 1.05, 1.2, 0.75],
  [-0.9, -1.2, -0.7, -1.3, -1.05, -0.8, -1.15, -0.95, -1.38, -1.1],
];
const magentaMore = [
  [-1.0, -0.75, -1.25, -0.9, -1.4, -0.6, -1.15, -0.85, -1.3, -1.05],
  [-1.05, -0.85, -1.3, -0.95, -1.2, -0.75, -1.1, -1.35, -0.9, -1.15],
  [1.0, 1.2, 0.9, 1.1, 1.25, 0.95, 1.15, 1.05, 0.88, 1.18],
  [-0.9, -1.2, -0.7, -1.4, -1.0, -0.6, -1.3, -0.8, -1.1, -1.5],
  [1.0, 1.25, 0.8, 1.15, 0.7, 1.3, 0.9, 1.05, 1.2, 0.95],
  [1.0, 1.3, 0.8, 1.15, 0.7, 1.38, 0.9, 1.05, 1.25, 0.95],
  [-0.9, -1.15, -0.7, -1.3, -1.0, -0.8, -1.2, -0.95, -1.35, -1.05],
  [-0.9, -1.15, -0.7, -1.3, -1.0, -0.8, -1.2, -0.95, -1.38, -1.05],
  [-1.0001, -1.0012, -0.9997, -1.0016, -1.0007, -1.002, -1.0004, -1.0013, -0.9999, -1.0009],
  [1.0, 1.25, 0.85, 1.15, 0.75, 1.3, 0.95, 1.05, 1.2, 0.9],
  [-0.9, -1.15, -0.7, -1.25, -1.0, -0.8, -1.2, -0.95, -1.3, -1.05],
];

const panels = [p1, p2, p3, p4, p5, p6, p7, p8, p9, p10, p11];

// extra observations that belong right after main group g
const extraX: Record<number, number[]> = { 0: blackMoreX, 1: redMoreX, 2: greenMoreX, 3: blueMoreX, 4: cyanMoreX, 5: magentaMoreX };
const extraY: Record<number, number[][]> = { 0: blackMore, 1: redMore, 2: greenMore, 3: blueMore, 4: cyanMore, 5: magentaMore };

// page is split like par(mfrow = c(4, 5)); each canvas spills a little to the left/bottom
const CELL_W = 1344 / 5;
const CELL_H = 240;
const SPILL = 24;
const CW = 293;
const CH = 262;
const AXIS_FONT = '20px "Liberation Sans", Arial, Helvetica, sans-serif';
const TITLE_FONT = 'bold 25px "Liberation Sans", Arial, Helvetica, sans-serif';
const TICK = 11.5;

const pointStyle = (color: string) => ({
  borderColor: color,
  backgroundColor: 'rgba(0,0,0,0)',
  pointRadius: 4.5,
  pointHoverRadius: 4.5,
  pointBorderWidth: 2,
  showLine: false,
  clip: 0,
});

const toPoints = (xs: number[], vals: number[]) =>
  vals.slice(0, xs.length).map((y, i) => ({ x: xs[i], y }));

const Panel: React.FC<{ index: number }> = ({ index }) => {
  const canvasRef = useRef<HTMLCanvasElement | null>(null);
  const row = Math.floor(index / 3);
  const col = index % 3;
  const left = Math.round(col * CELL_W) - SPILL;
  const top = row * CELL_H;

  useEffect(() => {
    if (!canvasRef.current) return;
    const ys = panels[index];
    const yr = yRanges[index];
    const ticks = yTicks[index];
    const tickLabels = yTickLabels[index];

    const datasets: any[] = [];
    groupX.forEach((xs, g) => {
      datasets.push({ data: toPoints(xs, ys[g]), ...pointStyle(groupColor[g]) });
      if (extraX[g]) datasets.push({ data: toPoints(extraX[g], extraY[g][index]), ...pointStyle(groupColor[g]) });
    });

    const rBase = {
      id: 'rBase',
      afterDatasetsDraw(chart: Chart) {
        const { ctx, chartArea: a } = chart;
        const sx = chart.scales.x;
        const sy = chart.scales.y;
        ctx.save();
        ctx.strokeStyle = '#000';
        ctx.fillStyle = '#000';
        ctx.lineWidth = 2;
        // abline(h = 0)
        if (yr[0] < 0 && yr[1] > 0) {
          const y0 = sy.getPixelForValue(0);
          ctx.beginPath();
          ctx.moveTo(a.left, y0);
          ctx.lineTo(a.right, y0);
          ctx.stroke();
        }
        ctx.strokeRect(a.left, a.top, a.right - a.left, a.bottom - a.top);

        ctx.font = AXIS_FONT;
        ctx.textAlign = 'center';
        ctx.textBaseline = 'alphabetic';
        xTicks.forEach((v, k) => {
          const px = sx.getPixelForValue(v);
          ctx.beginPath();
          ctx.moveTo(px, a.bottom);
          ctx.lineTo(px, a.bottom + TICK);
          ctx.stroke();
          if (xTickLabels[k]) ctx.fillText(xTickLabels[k], px, a.bottom + 47);
        });
        ticks.forEach((v, k) => {
          const py = sy.getPixelForValue(v);
          ctx.beginPath();
          ctx.moveTo(a.left - TICK, py);
          ctx.lineTo(a.left, py);
          ctx.stroke();
          if (tickLabels[k]) {
            ctx.save();
            ctx.translate(a.left - 29.5, py);
            ctx.rotate(-Math.PI / 2);
            ctx.fillText(tickLabels[k], 0, 0);
            ctx.restore();
          }
        });

        ctx.font = TITLE_FONT;
        ctx.fillText(titles[index], (a.left + a.right) / 2, a.top - 8);
        ctx.restore();
      },
    };

    const chart = new Chart(canvasRef.current, {
      type: 'scatter',
      data: { datasets },
      options: {
        responsive: false,
        animation: false,
        events: [],
        layout: { padding: { left: SPILL + 38, right: CW - (SPILL + 38 + 192), top: 37, bottom: CH - 201 } },
        plugins: { legend: { display: false }, tooltip: { enabled: false } },
        scales: {
          x: { type: 'linear', min: xRange[0], max: xRange[1], display: false },
          y: { type: 'linear', min: yr[0], max: yr[1], display: false },
        },
      },
      plugins: [rBase],
    });

    return () => {
      chart.destroy();
    };
  }, [index]);

  return (
    <canvas
      ref={canvasRef}
      width={CW}
      height={CH}
      style={{ position: 'absolute', left, top, width: CW, height: CH }}
    />
  );
};

export default function App() {
  return (
    <div
      style={{
        position: 'absolute',
        left: 0,
        top: 0,
        width: 1344,
        height: 960,
        overflow: 'hidden',
        background: '#ffffff',
      }}
    >
      {panels.map((_, i) => (
        <Panel key={i} index={i} />
      ))}
    </div>
  );
}
